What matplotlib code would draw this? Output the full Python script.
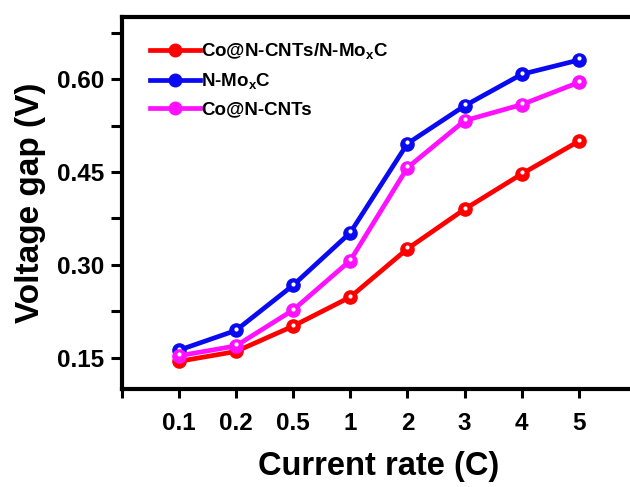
import numpy as np
import matplotlib
matplotlib.use('Agg')
import matplotlib.pyplot as plt
from matplotlib.ticker import MultipleLocator, FormatStrFormatter
from matplotlib.transforms import offset_copy

# 数据
rates = ['0.1', '0.2', '0.5', '1', '2', '3', '4', '5']
gap_hybrid = [0.144, 0.160, 0.201, 0.248, 0.326, 0.390, 0.447, 0.500]
gap_moxc = [0.162, 0.194, 0.267, 0.352, 0.496, 0.557, 0.608, 0.631]
gap_cnts = [0.153, 0.169, 0.227, 0.307, 0.457, 0.533, 0.559, 0.595]

labels = [r'Co@N-CNTs/N-Mo$_\mathbf{x}$C', r'N-Mo$_\mathbf{x}$C', 'Co@N-CNTs']
colors = ['#ff0000', '#0a0af0', '#ff10ff']

plt.rcParams['font.family'] = ['Liberation Sans', 'DejaVu Sans']
plt.rcParams['font.weight'] = 'bold'
plt.rcParams['axes.labelweight'] = 'bold'
plt.rcParams['mathtext.fontset'] = 'custom'
plt.rcParams['mathtext.bf'] = 'Liberation Sans:bold'
plt.rcParams['mathtext.rm'] = 'Liberation Sans:bold'

fig = plt.figure(figsize=(6.30, 4.87), dpi=100)
ax = fig.add_axes([0.1929, 0.2020, 0.817, 0.7625])

x = np.arange(len(rates))
for y, c, lab in zip([gap_hybrid, gap_moxc, gap_cnts], colors, labels):
    ax.plot(x, y, '-o', color=c, lw=3.4, ms=9.5, mfc=c, mec=c, mew=1, label=lab)
    # 小白点模拟球形标记的高光
    tr = offset_copy(ax.transData, fig=fig, x=0, y=1.5, units='dots')
    ax.plot(x, y, 'o', color='white', ms=3, mec='none', transform=tr)

ax.set_xlim(-1, 8)
ax.set_ylim(0.10, 0.70)
ax.set_xticks(np.arange(-1, 8))
ax.set_xticklabels([''] + rates)
ax.yaxis.set_major_locator(MultipleLocator(0.15))
ax.yaxis.set_minor_locator(MultipleLocator(0.075))
ax.yaxis.set_major_formatter(FormatStrFormatter('%.2f'))

for s in ax.spines.values():
    s.set_linewidth(3)
ax.tick_params(axis='both', which='both', direction='out', width=2.2, labelsize=17.5)
ax.tick_params(axis='x', length=6.5, pad=10)
ax.tick_params(axis='y', which='both', length=8, pad=4.5)

ax.set_xlabel('Current rate (C)', fontsize=23.5, labelpad=12)
ax.set_ylabel('Voltage gap (V)', fontsize=24, labelpad=8)

ax.legend(loc='upper left', bbox_to_anchor=(0.055, 0.935), frameon=False,
          borderaxespad=0, borderpad=0, handlelength=2.67,
          handletextpad=0.08, labelspacing=0.52, markerscale=0.95,
          prop={'weight': 'bold', 'size': 13.5})

fig.savefig('out.png', dpi=100)
